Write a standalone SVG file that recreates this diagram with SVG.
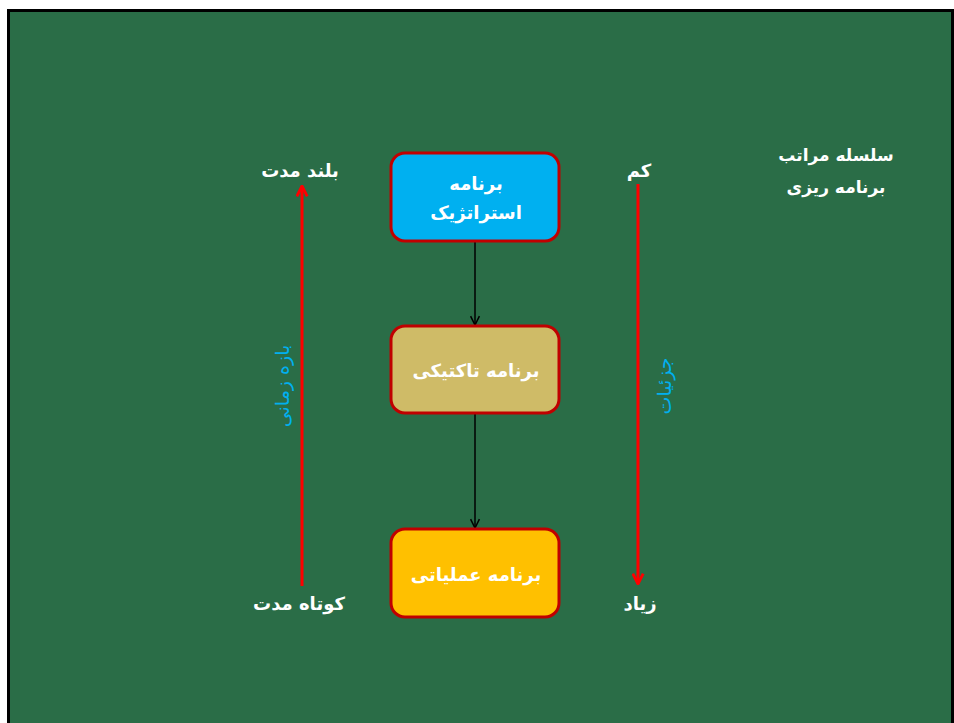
<svg xmlns="http://www.w3.org/2000/svg" width="954" height="723" viewBox="0 0 954 723">
<defs>
<style>
.box{stroke:#C00000;stroke-width:3}
.bt{font-family:"DejaVu Sans",sans-serif;font-weight:bold;font-size:18px;fill:#FFFFFF;text-anchor:middle}
.lbl{font-family:"DejaVu Sans",sans-serif;font-weight:bold;font-size:18px;fill:#FFFFFF;text-anchor:middle}
.hd{font-family:"DejaVu Sans",sans-serif;font-weight:bold;font-size:17px;fill:#FFFFFF;text-anchor:middle}
.vt{font-family:"DejaVu Sans",sans-serif;font-size:19px;fill:#00B0F0;text-anchor:middle}
.blk{stroke:#000000;stroke-width:1.5;fill:none}
.red{stroke:#FF0000;stroke-width:3;fill:none}
</style>
<marker id="ab" viewBox="0 0 10 10" refX="9" refY="5" markerWidth="11" markerHeight="11" orient="auto" markerUnits="userSpaceOnUse">
<path d="M1,1 L9,5 L1,9" fill="none" stroke="#000" stroke-width="1.4"/>
</marker>
<marker id="ar" viewBox="0 0 10 10" refX="9" refY="5" markerWidth="13" markerHeight="13" orient="auto" markerUnits="userSpaceOnUse">
<path d="M1,1 L9,5 L1,9" fill="none" stroke="#FF0000" stroke-width="2.2"/>
</marker>
</defs>
<rect width="954" height="723" fill="#FFFFFF"/>
<rect x="8.5" y="10.5" width="944" height="716" fill="#2A6D47" stroke="#000000" stroke-width="3"/>
<g id="connectors">
<line class="blk" x1="475" y1="242" x2="475" y2="325" marker-end="url(#ab)"/>
<line class="blk" x1="475" y1="414" x2="475" y2="528" marker-end="url(#ab)"/>
<line class="red" x1="302" y1="586" x2="302" y2="186" marker-end="url(#ar)"/>
<line class="red" x1="638" y1="184" x2="638" y2="584" marker-end="url(#ar)"/>
</g>
<g id="node-strategic">
<rect class="box" x="391" y="153" width="168" height="88" rx="14" fill="#00B0F0"/>
<text class="bt" x="476" y="190">برنامه</text>
<text class="bt" x="476" y="219">استراتژیک</text>
</g>
<g id="node-tactical">
<rect class="box" x="391" y="326" width="168" height="87" rx="14" fill="#CFBB67"/>
<text class="bt" x="476" y="377">برنامه تاکتیکی</text>
</g>
<g id="node-operational">
<rect class="box" x="391" y="529" width="168" height="88" rx="14" fill="#FFC000"/>
<text class="bt" x="476" y="581">برنامه عملیاتی</text>
</g>
<g id="labels">
<text class="lbl" x="300" y="177">بلند مدت</text>
<text class="lbl" x="299" y="610">کوتاه مدت</text>
<text class="lbl" x="639" y="177">کم</text>
<text class="lbl" x="640" y="610">زیاد</text>
<text class="hd" x="836" y="161">سلسله مراتب</text>
<text class="hd" x="836" y="193">برنامه ریزی</text>
<text class="vt" transform="translate(289,386) rotate(-90)">بازه زمانی</text>
<text class="vt" transform="translate(671,386) rotate(-90)">جزئیات</text>
</g>
</svg>
